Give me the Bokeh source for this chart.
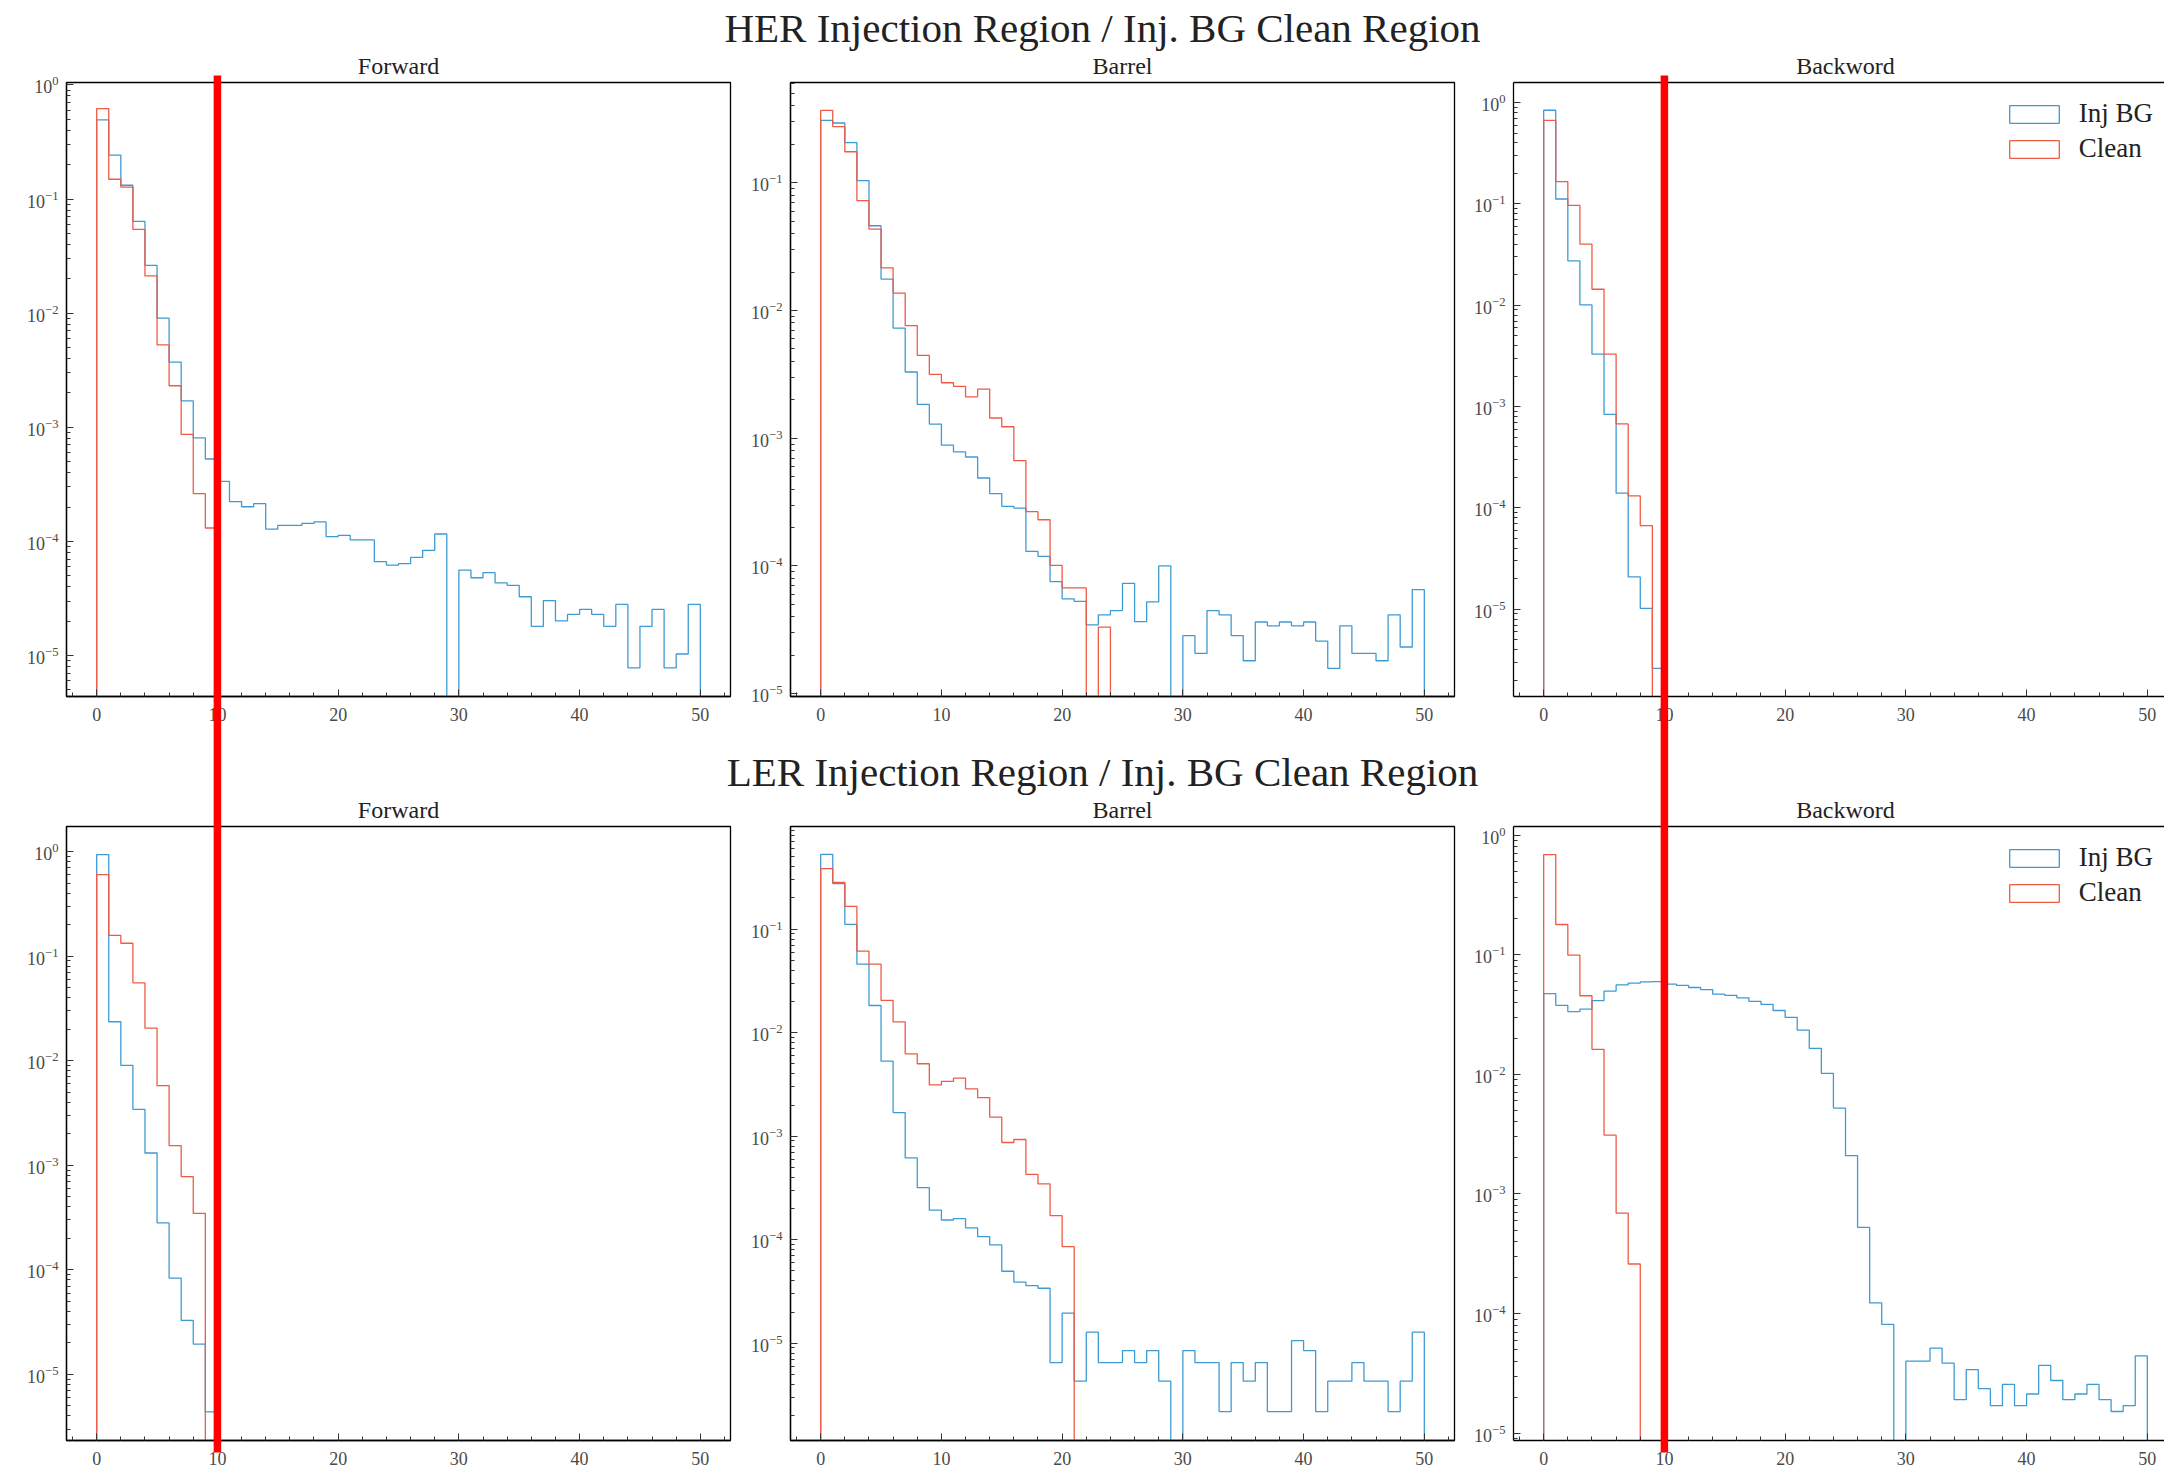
import numpy as np
from bokeh.plotting import figure
from bokeh.layouts import row, column
from bokeh.models import (Range1d, BoxAnnotation, Label, Legend, LegendItem,
                          SingleIntervalTicker, FixedTicker, LinearAxis)
from bokeh.embed import file_html
from bokeh.resources import INLINE

# ---------------- data (normalized bin contents, unit-width bins starting at 0) ----------------
row_titles = ["HER Injection Region / Inj. BG Clean Region",
              "LER Injection Region / Inj. BG Clean Region"]
panel_titles = ["Forward", "Barrel", "Backword"]
series_labels = ["Inj BG", "Clean"]
cut_value = 10

her_fwd_inj = [0.493, 0.243, 0.132, 0.0637, 0.0262, 0.00903, 0.00372, 0.0017, 8.07e-4, 5.27e-4,
               3.36e-4, 2.23e-4, 2.01e-4, 2.14e-4, 1.28e-4, 1.38e-4, 1.38e-4, 1.44e-4, 1.48e-4, 1.10e-4,
               1.13e-4, 1.03e-4, 1.03e-4, 6.64e-5, 6.2e-5, 6.37e-5, 7.23e-5, 8.35e-5, 1.16e-4, 0,
               5.6e-5, 4.8e-5, 5.32e-5, 4.33e-5, 4.12e-5, 3.27e-5, 1.8e-5, 3.03e-5, 2.01e-5, 2.29e-5,
               2.53e-5, 2.29e-5, 1.8e-5, 2.8e-5, 7.8e-6, 1.8e-5, 2.53e-5, 7.8e-6, 1.03e-5, 2.8e-5]
her_fwd_clean = [0.62, 0.149, 0.127, 0.0541, 0.0212, 0.00527, 0.00231, 8.65e-4, 2.62e-4, 1.31e-4]

her_bar_inj = [0.308, 0.294, 0.206, 0.104, 0.0461, 0.0176, 0.00728, 0.0033, 0.00184, 0.00129,
               8.83e-4, 7.82e-4, 7.13e-4, 4.88e-4, 3.68e-4, 2.93e-4, 2.84e-4, 1.3e-4, 1.19e-4, 7.54e-5,
               5.52e-5, 5.27e-5, 3.45e-5, 4.14e-5, 4.47e-5, 7.31e-5, 3.66e-5, 5.24e-5, 1.0e-4, 0,
               2.85e-5, 2.07e-5, 4.47e-5, 4.14e-5, 2.85e-5, 1.81e-5, 3.64e-5, 3.4e-5, 3.64e-5, 3.4e-5,
               3.64e-5, 2.58e-5, 1.58e-5, 3.4e-5, 2.07e-5, 2.07e-5, 1.81e-5, 4.14e-5, 2.32e-5, 6.53e-5]
her_bar_clean = [0.369, 0.275, 0.175, 0.0726, 0.0434, 0.0216, 0.0137, 0.00762, 0.00445, 0.00316,
                 0.00272, 0.00255, 0.00211, 0.00242, 0.00144, 0.00123, 6.67e-4, 2.66e-4, 2.3e-4, 1.01e-4,
                 6.73e-5, 6.73e-5, 0, 3.32e-5]

her_bwd_inj = [0.841, 0.112, 0.0274, 0.0101, 0.0033, 8.4e-4, 1.4e-4, 2.09e-5, 1.02e-5, 2.62e-6]
her_bwd_clean = [0.669, 0.166, 0.0968, 0.0401, 0.0144, 0.0033, 6.76e-4, 1.32e-4, 6.71e-5]

ler_fwd_inj = [0.935, 0.0236, 0.00904, 0.00343, 0.00131, 2.81e-4, 8.34e-5, 3.28e-5, 1.95e-5, 4.37e-6]
ler_fwd_clean = [0.604, 0.158, 0.133, 0.0556, 0.0205, 0.00578, 0.00154, 7.78e-4, 3.47e-4]

ler_bar_inj = [0.527, 0.275, 0.111, 0.0459, 0.0183, 0.0053, 0.00169, 6.17e-4, 3.18e-4, 1.93e-4,
               1.55e-4, 1.6e-4, 1.3e-4, 1.07e-4, 8.9e-5, 4.96e-5, 3.9e-5, 3.61e-5, 3.4e-5, 6.5e-6,
               1.95e-5, 4.3e-6, 1.28e-5, 6.5e-6, 6.5e-6, 8.5e-6, 6.5e-6, 8.5e-6, 4.3e-6, 0,
               8.5e-6, 6.5e-6, 6.5e-6, 2.19e-6, 6.5e-6, 4.3e-6, 6.5e-6, 2.19e-6, 2.19e-6, 1.06e-5,
               8.5e-6, 2.19e-6, 4.3e-6, 4.3e-6, 6.5e-6, 4.3e-6, 4.3e-6, 2.19e-6, 4.3e-6, 1.28e-5]
ler_bar_clean = [0.384, 0.282, 0.166, 0.0612, 0.0459, 0.0205, 0.0127, 0.00624, 0.00501, 0.00313,
                 0.00338, 0.00364, 0.00287, 0.00236, 0.00153, 8.69e-4, 9.29e-4, 4.27e-4, 3.46e-4, 1.71e-4,
                 8.57e-5]

ler_bwd_inj = [0.0473, 0.0378, 0.0334, 0.0351, 0.0414, 0.0497, 0.0559, 0.0578, 0.0593, 0.0597,
               0.0569, 0.0554, 0.0532, 0.051, 0.0469, 0.0458, 0.0436, 0.0408, 0.0385, 0.0342,
               0.030, 0.0234, 0.0165, 0.0102, 0.00523, 0.00209, 5.27e-4, 1.23e-4, 8.12e-5, 0,
               4.01e-5, 4.01e-5, 5.14e-5, 3.85e-5, 1.91e-5, 3.4e-5, 2.36e-5, 1.7e-5, 2.56e-5, 1.7e-5,
               2.13e-5, 3.69e-5, 2.76e-5, 1.91e-5, 2.13e-5, 2.56e-5, 1.91e-5, 1.52e-5, 1.7e-5, 4.43e-5]
ler_bwd_clean = [0.688, 0.179, 0.0991, 0.0454, 0.0162, 0.0031, 6.93e-4, 2.6e-4]

y_limits = [[(4.37e-6, 1.05), (9.5e-6, 0.61), (1.38e-6, 1.58)],
            [(2.33e-6, 1.74), (1.15e-6, 0.98), (8.7e-6, 1.18)]]

# ---------------- styling / layout ----------------
FONT = "Liberation Serif"
BLUE = "#3E9BD4"
RED = "#EF5B45"
TEXT = "#222222"
TOTAL_W, TOTAL_H = 2164, 1474
FRAME_W, FRAME_H = 664, 614
X_LO, X_HI = -2.5, 52.5
PX_PER_UNIT = FRAME_W / (X_HI - X_LO)

col_cfg = [dict(width=745, left=66, right=15),
           dict(width=723, left=45, right=14),
           dict(width=TOTAL_W - 745 - 723, left=45, right=0)]
row_cfg = [dict(height=740, top=82, bottom=44),
           dict(height=TOTAL_H - 740, top=86, bottom=TOTAL_H - 740 - 86 - FRAME_H)]

frame_left = [col_cfg[0]["left"],
              col_cfg[0]["width"] + col_cfg[1]["left"],
              col_cfg[0]["width"] + col_cfg[1]["width"] + col_cfg[2]["left"]]
frame_top = [row_cfg[0]["top"], row_cfg[0]["height"] + row_cfg[1]["top"]]


def outline(vals, floor=1e-9):
    xs, ys = [0.0], [floor]
    for i, v in enumerate(vals):
        h = v if v > 0 else floor
        xs += [float(i), float(i + 1)]
        ys += [h, h]
    xs.append(float(len(vals)))
    ys.append(floor)
    return xs, ys


def style_axis(ax, standoff):
    ax.major_tick_in = 7
    ax.major_tick_out = 0
    ax.minor_tick_in = 4
    ax.minor_tick_out = 0
    ax.major_tick_line_color = "#333333"
    ax.minor_tick_line_color = "#333333"
    ax.axis_line_color = "black"
    ax.axis_line_width = 1.3
    ax.major_label_text_font = FONT
    ax.major_label_text_font_size = "18px"
    ax.major_label_text_color = "#4a4a4a"
    ax.major_label_standoff = standoff


def make_panel(r, c, inj, clean):
    cc, rc = col_cfg[c], row_cfg[r]
    frame_w = cc["width"] - cc["left"] - cc["right"]
    x_hi = X_LO + frame_w / PX_PER_UNIT
    lo, hi = y_limits[r][c]
    p = figure(width=cc["width"], height=rc["height"], y_axis_type="log",
               x_range=Range1d(X_LO, x_hi), y_range=Range1d(lo, hi),
               toolbar_location=None, output_backend="svg",
               min_border_left=cc["left"], min_border_right=cc["right"],
               min_border_top=rc["top"], min_border_bottom=rc["bottom"])
    p.xgrid.visible = False
    p.ygrid.visible = False
    p.background_fill_color = "white"
    p.border_fill_color = "white"

    p.xaxis.ticker = SingleIntervalTicker(interval=10, num_minor_ticks=5)
    p.yaxis[0].ticker.num_minor_ticks = 10
    for ax in p.xaxis:
        style_axis(ax, 11)
    for ax in p.yaxis:
        style_axis(ax, 8)

    if c == 2:
        # right edge of this panel lies beyond the picture: draw only top/left/bottom edges
        p.outline_line_color = None
        top_ax = LinearAxis(ticker=FixedTicker(ticks=[]), major_label_text_font_size="0px",
                            axis_line_color="black", axis_line_width=1.3,
                            major_tick_in=0, major_tick_out=0, minor_tick_in=0, minor_tick_out=0)
        p.add_layout(top_ax, "above")
    else:
        p.outline_line_color = "black"
        p.outline_line_width = 1.3
        p.outline_line_alpha = 1.0

    bx, by = outline(inj)
    rb = p.patch(bx, by, fill_alpha=0, line_color=BLUE, line_width=1.3)
    cx, cy = outline(clean)
    rr = p.patch(cx, cy, fill_alpha=0, line_color=RED, line_width=1.3)

    if c == 2:
        legend = Legend(items=[LegendItem(label=series_labels[0], renderers=[rb]),
                               LegendItem(label=series_labels[1], renderers=[rr])],
                        location=(489.75, 532), glyph_width=62, glyph_height=22,
                        label_standoff=14, spacing=4, padding=0, margin=0,
                        label_text_font=FONT, label_text_font_size="27px",
                        label_text_color=TEXT,
                        border_line_color=None, background_fill_alpha=0)
        p.add_layout(legend)
    return p


data = [[(her_fwd_inj, her_fwd_clean), (her_bar_inj, her_bar_clean), (her_bwd_inj, her_bwd_clean)],
        [(ler_fwd_inj, ler_fwd_clean), (ler_bar_inj, ler_bar_clean), (ler_bwd_inj, ler_bwd_clean)]]

rows = []
for r in range(2):
    figs = [make_panel(r, c, *data[r][c]) for c in range(3)]
    rows.append(row(*figs, spacing=0))

# ---------------- transparent overlay: figure titles, panel titles, cut lines ----------------
ov = figure(width=TOTAL_W, height=TOTAL_H, title=None,
            x_range=Range1d(X_LO - frame_left[0] / PX_PER_UNIT,
                            X_LO + (TOTAL_W - frame_left[0]) / PX_PER_UNIT),
            y_range=Range1d(0, TOTAL_H),
            x_axis_type=None, y_axis_type=None,
            toolbar_location=None, output_backend="svg", min_border=0)
ov.extra_x_ranges = {"col3": Range1d(X_LO - frame_left[2] / PX_PER_UNIT,
                                     X_LO + (TOTAL_W - frame_left[2]) / PX_PER_UNIT)}
ov.outline_line_color = None
ov.background_fill_color = None
ov.border_fill_color = None
ov.xgrid.visible = False
ov.ygrid.visible = False
ov.styles = {"position": "absolute", "left": "0px", "top": "0px", "pointer-events": "none",
             "z-index": "10"}

title_gap = [54.7, 16.3]   # anchor distance above frame top: figure title, panel title
for r in range(2):
    ov.add_layout(Label(x=1102, y=TOTAL_H - (frame_top[r] - title_gap[0]),
                        x_units="screen", y_units="screen", text=row_titles[r],
                        text_align="center", text_baseline="alphabetic",
                        text_font=FONT, text_font_size="41px", text_color=TEXT))
    for c in range(3):
        ov.add_layout(Label(x=frame_left[c] + FRAME_W / 2, y=TOTAL_H - (frame_top[r] - title_gap[1]),
                            x_units="screen", y_units="screen", text=panel_titles[c],
                            text_align="center", text_baseline="alphabetic",
                            text_font=FONT, text_font_size="24px", text_color=TEXT))

half = 3.75 / PX_PER_UNIT
for rng in ("default", "col3"):
    ov.add_layout(BoxAnnotation(left=cut_value - half, right=cut_value + half,
                                top=TOTAL_H - 75, bottom=TOTAL_H - 1452,
                                top_units="screen", bottom_units="screen",
                                x_range_name=rng,
                                fill_color="#FF0000", fill_alpha=1.0, line_color=None))

layout = column(rows[0], rows[1], ov, spacing=0)

open("out.html", "w").write(file_html(layout, INLINE))
